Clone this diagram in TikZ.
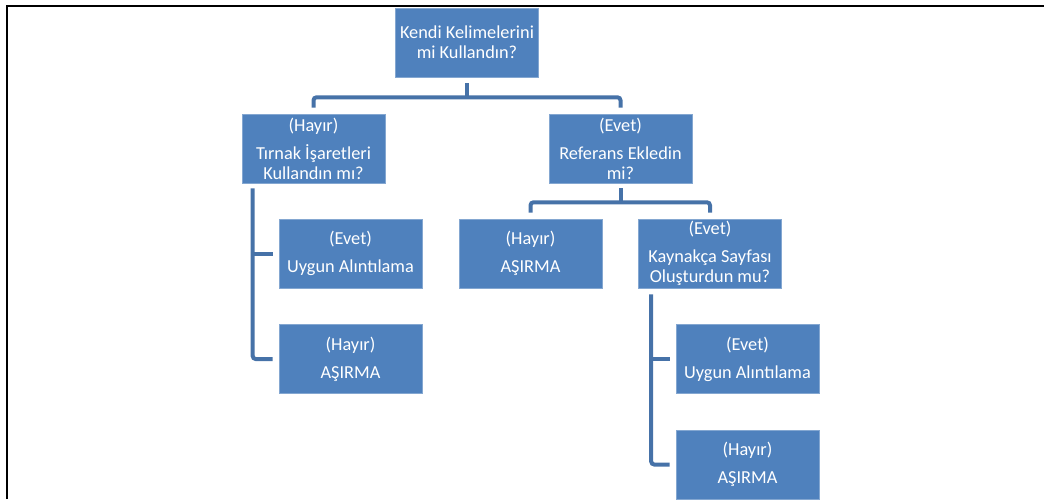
\documentclass[tikz,border=0pt]{standalone}
\usepackage{fontspec}
\setmainfont{Carlito}
\definecolor{boxblue}{HTML}{4F81BD}
\definecolor{connblue}{HTML}{4672A8}
\tikzset{
  qbox/.style={fill=boxblue, draw=boxblue!70!white, line width=0.6pt, minimum width=143pt, minimum height=69pt,
    inner sep=0pt, align=center, text=white, font=\fontsize{18.3}{20}\selectfont},
  conn/.style={draw=connblue, line width=4pt, rounded corners=3pt},
}
\begin{document}
\begin{tikzpicture}[x=1pt,y=-1pt]
\useasboundingbox (0,0) rectangle (1044,499);
% frame
\draw[line width=2pt] (6.5,499) -- (6.5,5.5) -- (1044,5.5);
% boxes
\node[qbox] (root) at (467,42.5) {Kendi Kelimelerini\\mi Kullandın?};
\node[qbox] (h1) at (313.5,148.5) {(Hayır)\\[8pt]Tırnak İşaretleri\\Kullandın mı?};
\node[qbox] (e1) at (620.5,148.5) {(Evet)\\[8pt]Referans Ekledin\\mi?};
\node[qbox] (le) at (350.5,253.5) {(Evet)\\[8pt]Uygun Alıntılama};
\node[qbox] (lh) at (350.5,359) {(Hayır)\\[8pt]AŞIRMA};
\node[qbox] (mh) at (530.5,253.5) {(Hayır)\\[8pt]AŞIRMA};
\node[qbox] (kk) at (710,253.5) {(Evet)\\[8pt]Kaynakça Sayfası\\Oluşturdun mu?};
\node[qbox] (re) at (747.5,359) {(Evet)\\[8pt]Uygun Alıntılama};
\node[qbox] (rh) at (747.5,464.5) {(Hayır)\\[8pt]AŞIRMA};
% connectors
\coordinate (j1) at ([yshift=-20pt]root.south);
\draw[conn] ([yshift=-6pt]root.south) -- (j1);
\draw[conn] ([yshift=6pt]h1.north) |- (j1) -| ([yshift=6pt]e1.north);
\coordinate (j2) at ([yshift=-19pt]e1.south);
\draw[conn] ([yshift=-5pt]e1.south) -- (j2);
\draw[conn] ([yshift=6pt]mh.north) |- (j2) -| ([yshift=6pt]kk.north);
\coordinate (t1) at ([xshift=11pt,yshift=-5pt]h1.south west);
\draw[conn] (t1) |- ([xshift=-6pt]lh.west);
\draw[conn] (t1 |- le.west) -- ([xshift=-6pt]le.west);
\coordinate (t2) at ([xshift=13pt,yshift=-6pt]kk.south west);
\draw[conn] (t2) |- ([xshift=-6pt]rh.west);
\draw[conn] (t2 |- re.west) -- ([xshift=-6pt]re.west);
\end{tikzpicture}
\end{document}
